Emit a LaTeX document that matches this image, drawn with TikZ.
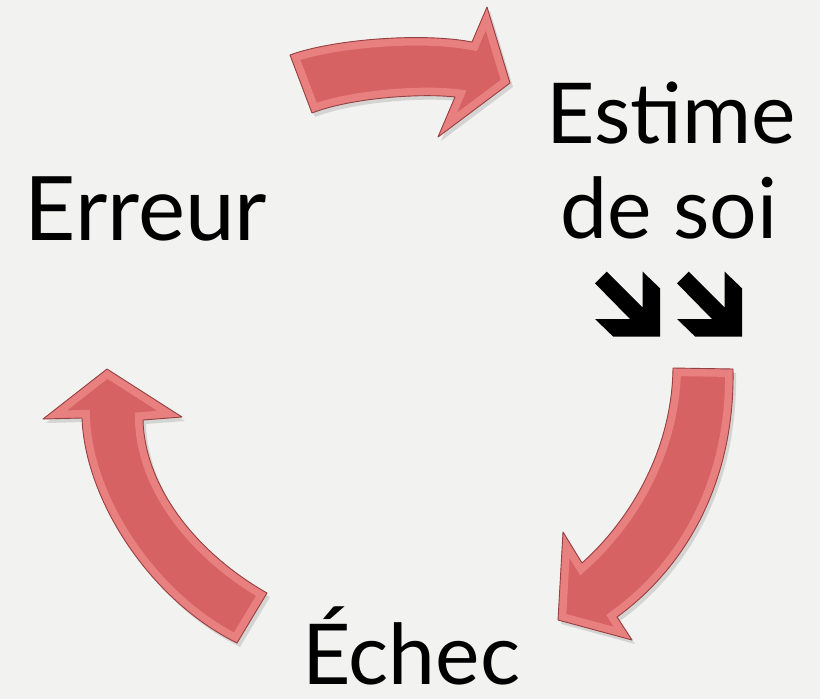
\documentclass[tikz,border=0pt]{standalone}
\usepackage{fontspec}
\setmainfont{Lato}
\definecolor{bgcol}{RGB}{242,242,240}
\definecolor{facecol}{RGB}{214,98,100}
\definecolor{bevelcol}{RGB}{232,128,128}
\definecolor{edgecol}{RGB}{150,64,66}
\tikzset{
  label/.style={font=\fontsize{84}{84}\selectfont, inner sep=0pt, anchor=base, text=black},
  shadowfill/.style={fill=black, opacity=0.12},
  facefill/.style={fill=facecol},
  bevelline/.style={draw=bevelcol, line width=16pt},
  edgeline/.style={draw=edgecol, line width=0.9pt, line join=round},
  darrow/.style={fill=black}
}
\def\toparrow{(290,55) .. controls (330,40) and (420,32) .. (472,42) -- (487,7) -- (510,83) -- (438,137) -- (455,97) .. controls (420,93) and (350,98) .. (312,113) -- cycle}
\def\rightarrow{(673,368) -- (733,369) .. controls (735,470) and (695,560) .. (617,617) -- (632,640) -- (558,620) -- (563,532) -- (582,563) .. controls (630,520) and (672,450) .. (673,368) -- cycle}
\def\leftarrow{(107,369) -- (182,417) -- (143,420) .. controls (145,490) and (200,555) .. (267,593) -- (237,643) .. controls (150,600) and (85,500) .. (82,418) -- (43,419) -- cycle}
\begin{document}
\begin{tikzpicture}[x=1pt,y=-1pt]
\useasboundingbox (0,0) rectangle (820,699);
\fill[bgcol] (0,0) rectangle (820,699);
% curved red arrows
\foreach \p in {\toparrow,\rightarrow,\leftarrow}{
  \fill[shadowfill, shift={(3,4)}] \p;
  \fill[facefill] \p;
  \begin{scope}
    \clip \p;
    \draw[bevelline] \p;
  \end{scope}
  \draw[edgeline] \p;
}
% labels
\node[label, font=\fontsize{89}{89}\selectfont] (erreur) at (146,240) {Erreur};
\node[label] (estime) at (671,143) {Estime};
\node[label] (desoi) at (669,238) {de soi};
\node[label] (echec) at (411,684) {Échec};
% black double arrows
\foreach \dx in {0,82}{
  \fill[darrow, xshift=\dx pt] (606.7,271.7) -- (642.7,307.7) -- (642.7,271.7) -- (660,288.3) -- (660,336.7) -- (613.3,336.7) -- (595,319) -- (630,319) -- (595,283.3) -- cycle;
}
\end{tikzpicture}
\end{document}
